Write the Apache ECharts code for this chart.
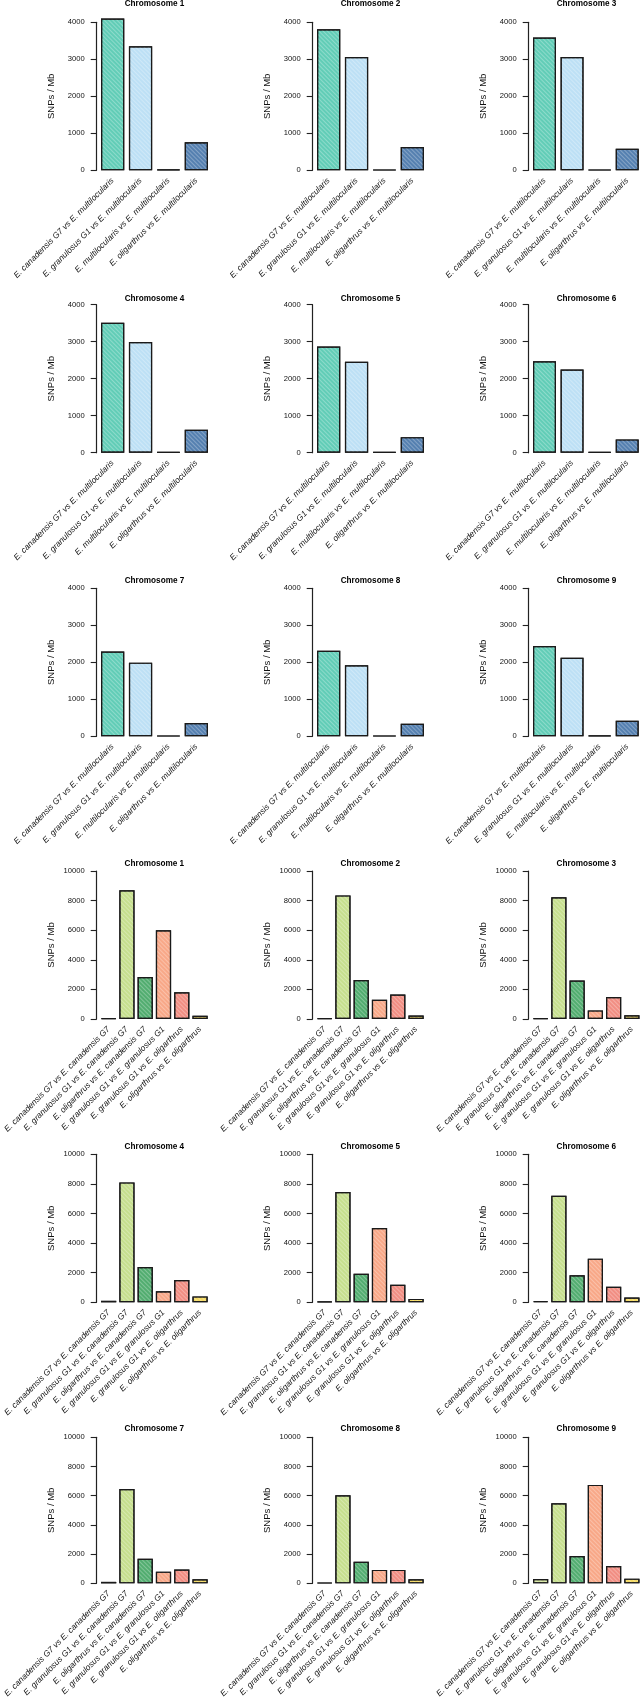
<!DOCTYPE html>
<html>
<head>
<meta charset="utf-8">
<script src="https://cdn.jsdelivr.net/npm/echarts@6/dist/echarts.min.js"></script>
<style>
html,body{margin:0;padding:0;background:#fff;}
#c{width:641px;height:1700px;}
</style>
</head>
<body>
<div id="c"></div>
<script>
// ---------- data ----------
const chromosomeTitles = ['Chromosome 1','Chromosome 2','Chromosome 3','Chromosome 4','Chromosome 5','Chromosome 6','Chromosome 7','Chromosome 8','Chromosome 9'];

const multiCategories = [
  'E. canadensis G7 vs E. multilocularis',
  'E. granulosus G1 vs E. multilocularis',
  'E. multilocularis vs E. multilocularis',
  'E. oligarthrus vs E. multilocularis'
];
const pairCategories = [
  'E. canadensis G7 vs E. canadensis G7',
  'E. granulosus G1 vs E. canadensis G7',
  'E. oligarthrus vs E. canadensis G7',
  'E. granulosus G1 vs E. granulosus G1',
  'E. granulosus G1 vs E. oligarthrus',
  'E. oligarthrus vs E. oligarthrus'
];

const multiTicks = [0, 1000, 2000, 3000, 4000];
const pairTicks = [0, 2000, 4000, 6000, 8000, 10000];

// SNPs / Mb versus E. multilocularis
const chr1Multi = [4100, 3350, 20, 760];
const chr2Multi = [3810, 3060, 15, 630];
const chr3Multi = [3590, 3060, 15, 580];
const chr4Multi = [3510, 2990, 15, 620];
const chr5Multi = [2870, 2460, 15, 420];
const chr6Multi = [2470, 2250, 15, 360];
const chr7Multi = [2290, 1990, 15, 360];
const chr8Multi = [2310, 1920, 15, 340];
const chr9Multi = [2440, 2120, 20, 420];

// SNPs / Mb between the other species
const chr1Pair = [50, 8700, 2830, 6000, 1800, 220];
const chr2Pair = [60, 8350, 2630, 1300, 1650, 230];
const chr3Pair = [50, 8220, 2600, 580, 1480, 250];
const chr4Pair = [100, 8100, 2380, 750, 1500, 400];
const chr5Pair = [50, 7450, 1930, 5020, 1180, 230];
const chr6Pair = [80, 7200, 1820, 2950, 1050, 320];
const chr7Pair = [100, 6460, 1680, 800, 950, 280];
const chr8Pair = [50, 6030, 1480, 920, 920, 280];
const chr9Pair = [300, 5480, 1870, 6740, 1180, 320];

const multiSets = [chr1Multi, chr2Multi, chr3Multi, chr4Multi, chr5Multi, chr6Multi, chr7Multi, chr8Multi, chr9Multi];
const pairSets = [chr1Pair, chr2Pair, chr3Pair, chr4Pair, chr5Pair, chr6Pair, chr7Pair, chr8Pair, chr9Pair];

// ---------- styles ----------
const multiColors = ['#62cdb7', '#bde0f5', '#d0d0d0', '#5580b0'];
const pairColors = ['#d6e6a0', '#c6df8e', '#52ad70', '#f8a888', '#f18e83', '#f5da62'];

const FONT = "'Liberation Sans', Arial, Helvetica, sans-serif";
const colX = [0, 216, 432];
const rowTop = [22.3, 304.7, 588.3, 871, 1154.3, 1437.3];
const titleY = [4, 298.3, 580.7, 864, 1147, 1429];
const plotH = 148;
const axisX = 96.7;

const hatch = {
  symbol: 'rect',
  symbolSize: 1,
  color: 'rgba(255,255,255,0.28)',
  dashArrayX: [1, 0],
  dashArrayY: [1, 2],
  rotation: Math.PI / 4
};

const grids = [], xAxes = [], yAxes = [], series = [], graphics = [];

for (let r = 0; r < 6; r++) {
  for (let c = 0; c < 3; c++) {
    const idx = r * 3 + c;
    const isMulti = r < 3;
    const chr = (r % 3) * 3 + c;
    const cats = isMulti ? multiCategories : pairCategories;
    const vals = isMulti ? multiSets[chr] : pairSets[chr];
    const ticks = isMulti ? multiTicks : pairTicks;
    const colors = isMulti ? multiColors : pairColors;
    const gl = isMulti ? 98.7 : 99.5;
    const gw = isMulti ? 111.6 : 109.7;
    const left = colX[c] + gl;

    grids.push({ left: left, top: rowTop[r], width: gw, height: plotH, containLabel: false });

    xAxes.push({
      type: 'category', gridIndex: idx, data: cats,
      axisLine: { show: false }, axisTick: { show: false },
      axisLabel: {
        interval: 0, rotate: 45, margin: 9,
        fontFamily: FONT, fontSize: 8.4, fontStyle: 'italic', color: '#111'
      }
    });

    yAxes.push({
      type: 'value', gridIndex: idx,
      min: ticks[0], max: ticks[ticks.length - 1], interval: ticks[1] - ticks[0],
      offset: gl - axisX,
      splitLine: { show: false },
      axisLine: { show: true, lineStyle: { color: '#222', width: 1.2 } },
      axisTick: { show: true, length: 6, lineStyle: { color: '#222', width: 1.1 } },
      axisLabel: { margin: 12, fontFamily: FONT, fontSize: 7.6, color: '#111', formatter: v => String(v) },
      name: 'SNPs / Mb', nameLocation: 'middle', nameGap: 40,
      nameTextStyle: { fontFamily: FONT, fontSize: 9.5, color: '#111' }
    });

    series.push({
      type: 'bar', xAxisIndex: idx, yAxisIndex: idx,
      barCategoryGap: '16.7%', clip: false, silent: true,
      data: vals.map((v, i) => ({
        value: v,
        itemStyle: { color: colors[i], borderColor: '#1a1a1a', borderWidth: 1.2, decal: hatch }
      }))
    });

    graphics.push({
      type: 'text', x: left + gw / 2, y: titleY[r],
      style: {
        text: chromosomeTitles[chr], fill: '#000', font: 'bold 8.2px ' + FONT,
        textAlign: 'center', textVerticalAlign: 'middle'
      }
    });
  }
}

const chart = echarts.init(document.getElementById('c'), null, { width: 641, height: 1700 });
chart.setOption({
  animation: false,
  backgroundColor: '#fff',
  grid: grids, xAxis: xAxes, yAxis: yAxes, series: series, graphic: graphics
});
</script>
</body>
</html>
